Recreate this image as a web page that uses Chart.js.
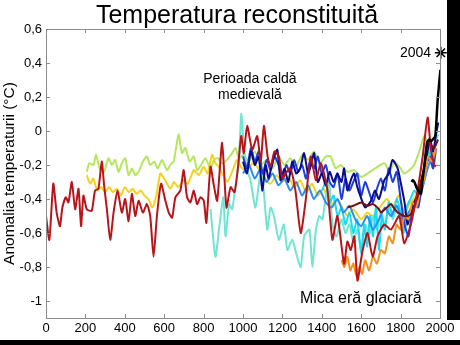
<!DOCTYPE html>
<html>
<head>
<meta charset="utf-8">
<title>Temperatura reconstituită</title>
<script src="https://cdn.jsdelivr.net/npm/chart.js"></script>
<style>
    html, body { margin: 0; padding: 0; background: #fff; }
    #wrap { position: relative; width: 460px; height: 345px; }
    .edge { position: absolute; background: #000; }
</style>
</head>
<body>
<div id="wrap">
    <canvas id="tempChart" width="460" height="345"></canvas>
    <div class="edge" style="left:447px; top:0; width:13px; height:320px;"></div>
    <div class="edge" style="left:0; top:340px; width:460px; height:5px;"></div>
</div>
<script>
// axis ticks
const xTicks = [0, 200, 400, 600, 800, 1000, 1200, 1400, 1600, 1800, 2000];
const yTicks = [-1, -0.8, -0.6, -0.4, -0.2, 0, 0.2, 0.4, 0.6];

// reconstructions (year, anomaly in °C)
const redYears = [0, 17, 37, 54, 71, 83, 100, 114, 131, 148, 165, 178, 190, 207, 232, 249, 266, 283, 295, 309, 326, 343, 363, 385, 402, 419, 436, 453, 470, 492, 512, 529, 546, 563, 584, 606, 623, 640, 657, 682, 699, 716, 733, 750, 767, 784, 801, 814, 835, 852, 869, 894, 916, 937, 957, 974, 991, 1004, 1021, 1047, 1072, 1090, 1106, 1125, 1140, 1160, 1182, 1200, 1216, 1240, 1266, 1293, 1318, 1344, 1370, 1395, 1429, 1454, 1479, 1513, 1530, 1547, 1565, 1581, 1606, 1632, 1658, 1683, 1717, 1751, 1793, 1818, 1852, 1886, 1912, 1937, 1954, 1971, 1979];
const redTemps = [-0.50, -0.64, -0.31, -0.48, -0.56, -0.45, -0.39, -0.42, -0.30, -0.46, -0.34, -0.56, -0.38, -0.46, -0.47, -0.35, -0.34, -0.18, -0.32, -0.46, -0.64, -0.48, -0.35, -0.48, -0.40, -0.53, -0.37, -0.50, -0.41, -0.48, -0.43, -0.50, -0.74, -0.50, -0.31, -0.41, -0.48, -0.51, -0.39, -0.35, -0.23, -0.39, -0.42, -0.35, -0.43, -0.39, -0.41, -0.54, -0.21, -0.32, -0.41, -0.07, -0.45, -0.33, -0.36, -0.22, -0.03, -0.13, 0.03, -0.11, -0.03, -0.18, 0.03, -0.15, -0.21, -0.12, -0.15, -0.28, -0.25, -0.22, -0.35, -0.60, -0.41, -0.15, -0.29, -0.19, -0.35, -0.64, -0.50, -0.78, -0.65, -0.70, -0.62, -0.88, -0.71, -0.60, -0.74, -0.62, -0.55, -0.58, -0.50, -0.66, -0.55, -0.35, -0.15, 0.08, -0.11, -0.20, -0.21];

const greenYears = [207, 220, 241, 254, 275, 295, 317, 334, 351, 368, 385, 402, 419, 436, 453, 470, 492, 512, 529, 550, 567, 589, 614, 631, 648, 673, 690, 707, 729, 750, 767, 787, 809, 835, 852, 872, 894, 919, 945, 962, 979, 1004, 1030, 1060, 1090, 1120, 1150, 1180, 1210, 1240, 1270, 1300, 1330, 1360, 1390, 1420, 1445, 1470, 1496, 1530, 1564, 1600, 1632, 1670, 1717, 1745, 1768, 1800, 1818, 1845, 1868, 1895, 1920, 1940, 1955, 1980];
const greenTemps = [-0.24, -0.19, -0.20, -0.14, -0.23, -0.24, -0.16, -0.20, -0.17, -0.24, -0.19, -0.16, -0.26, -0.22, -0.26, -0.24, -0.18, -0.15, -0.20, -0.18, -0.22, -0.17, -0.23, -0.20, -0.18, -0.02, -0.13, -0.10, -0.18, -0.15, -0.23, -0.20, -0.16, -0.22, -0.17, -0.16, -0.19, -0.17, -0.13, -0.10, -0.16, -0.14, -0.18, -0.12, -0.20, -0.17, -0.22, -0.15, -0.20, -0.16, -0.21, -0.14, -0.17, -0.12, -0.19, -0.15, -0.15, -0.22, -0.20, -0.24, -0.23, -0.27, -0.25, -0.22, -0.19, -0.24, -0.18, -0.22, -0.25, -0.23, -0.20, -0.12, -0.03, -0.08, -0.13, -0.08];

const yellowYears = [207, 224, 240, 260, 280, 300, 320, 340, 360, 380, 400, 420, 440, 460, 480, 500, 520, 540, 560, 580, 600, 631, 650, 670, 699, 720, 750, 775, 801, 820, 843, 860, 877, 900, 920, 945, 970, 995, 1021, 1050, 1072, 1100, 1140, 1170, 1200, 1230, 1260, 1290, 1320, 1350, 1380, 1410, 1445, 1470, 1500, 1530, 1560, 1600, 1630, 1660, 1700, 1730, 1760, 1790, 1820, 1850, 1880, 1910, 1940, 1960, 1980];
const yellowTemps = [-0.26, -0.31, -0.28, -0.35, -0.33, -0.36, -0.33, -0.36, -0.34, -0.38, -0.33, -0.36, -0.34, -0.37, -0.35, -0.38, -0.40, -0.45, -0.38, -0.25, -0.28, -0.34, -0.30, -0.33, -0.29, -0.31, -0.23, -0.26, -0.21, -0.25, -0.14, -0.19, -0.21, -0.26, -0.30, -0.24, -0.17, -0.22, -0.23, -0.19, -0.21, -0.27, -0.31, -0.26, -0.30, -0.27, -0.33, -0.29, -0.36, -0.31, -0.38, -0.34, -0.45, -0.40, -0.44, -0.50, -0.46, -0.52, -0.48, -0.50, -0.44, -0.40, -0.45, -0.38, -0.48, -0.42, -0.38, -0.28, -0.16, -0.20, -0.12];

const turqYears = [835, 860, 880, 900, 911, 930, 945, 962, 979, 991, 1004, 1020, 1038, 1063, 1089, 1105, 1123, 1140, 1157, 1182, 1207, 1225, 1250, 1270, 1293, 1310, 1337, 1352, 1370, 1387, 1403, 1420, 1437, 1454, 1475, 1500, 1520, 1540, 1560, 1580, 1600, 1620, 1640, 1660, 1680, 1700, 1720, 1740, 1760, 1780, 1800, 1820, 1840, 1860, 1880, 1900, 1920, 1940, 1960, 1980, 1992];
const turqTemps = [-0.46, -0.74, -0.56, -0.39, -0.62, -0.43, -0.46, -0.32, -0.18, 0.10, -0.09, -0.22, -0.29, -0.45, -0.25, -0.35, -0.58, -0.45, -0.50, -0.64, -0.55, -0.70, -0.64, -0.72, -0.80, -0.62, -0.58, -0.80, -0.58, -0.50, -0.52, -0.39, -0.30, -0.55, -0.62, -0.52, -0.60, -0.55, -0.65, -0.58, -0.70, -0.55, -0.62, -0.50, -0.58, -0.48, -0.55, -0.45, -0.52, -0.44, -0.55, -0.58, -0.50, -0.45, -0.40, -0.35, -0.25, -0.10, -0.15, -0.05, -0.02];

const cyanYears = [1402, 1420, 1440, 1460, 1480, 1500, 1520, 1540, 1560, 1580, 1600, 1615, 1630, 1645, 1660, 1675, 1690, 1705, 1720, 1740, 1760, 1780, 1800, 1815, 1830, 1850, 1870, 1890, 1910, 1930, 1945, 1960];
const cyanTemps = [-0.35, -0.30, -0.42, -0.38, -0.50, -0.45, -0.55, -0.48, -0.60, -0.52, -0.72, -0.55, -0.68, -0.50, -0.62, -0.45, -0.70, -0.50, -0.58, -0.42, -0.50, -0.40, -0.48, -0.60, -0.45, -0.40, -0.35, -0.38, -0.30, -0.18, -0.12, -0.18];

const lightBlueYears = [1000, 1030, 1060, 1090, 1120, 1150, 1180, 1210, 1240, 1270, 1300, 1330, 1360, 1390, 1420, 1450, 1480, 1510, 1540, 1570, 1600, 1630, 1660, 1690, 1720, 1750, 1780, 1810, 1840, 1870, 1900, 1930, 1950, 1965];
const lightBlueTemps = [-0.25, -0.20, -0.28, -0.22, -0.30, -0.25, -0.32, -0.28, -0.35, -0.30, -0.38, -0.32, -0.40, -0.35, -0.42, -0.45, -0.40, -0.48, -0.44, -0.52, -0.56, -0.50, -0.58, -0.52, -0.45, -0.50, -0.44, -0.52, -0.48, -0.42, -0.38, -0.25, -0.18, -0.22];

const blueYears = [1000, 1020, 1040, 1060, 1080, 1100, 1120, 1140, 1160, 1180, 1200, 1220, 1240, 1260, 1280, 1300, 1320, 1340, 1360, 1380, 1400, 1420, 1440, 1460, 1480, 1500, 1520, 1540, 1560, 1580, 1600, 1620, 1640, 1660, 1680, 1700, 1720, 1740, 1760, 1780, 1800, 1820, 1840, 1855, 1870, 1890, 1910, 1930, 1950, 1965, 1980];
const blueTemps = [-0.15, -0.22, -0.10, -0.18, -0.12, -0.25, -0.17, -0.23, -0.15, -0.20, -0.28, -0.20, -0.25, -0.17, -0.24, -0.20, -0.28, -0.18, -0.22, -0.15, -0.25, -0.20, -0.30, -0.33, -0.25, -0.40, -0.28, -0.35, -0.30, -0.25, -0.38, -0.30, -0.36, -0.42, -0.34, -0.28, -0.35, -0.22, -0.30, -0.24, -0.40, -0.55, -0.62, -0.50, -0.42, -0.45, -0.30, -0.20, -0.15, -0.22, -0.10];

const navyYears = [1000, 1020, 1040, 1060, 1080, 1098, 1115, 1130, 1150, 1174, 1191, 1210, 1230, 1250, 1270, 1290, 1310, 1330, 1345, 1361, 1380, 1400, 1420, 1440, 1460, 1479, 1500, 1513, 1530, 1550, 1564, 1580, 1598, 1620, 1650, 1670, 1690, 1717, 1740, 1759, 1785, 1800, 1820, 1835, 1850, 1868, 1885, 1903, 1920, 1937, 1950, 1965, 1980, 1991];
const navyTemps = [-0.18, -0.25, -0.12, -0.20, -0.15, -0.35, -0.20, -0.28, -0.18, -0.11, -0.29, -0.22, -0.30, -0.18, -0.25, -0.22, -0.13, -0.25, -0.20, -0.13, -0.30, -0.25, -0.32, -0.24, -0.30, -0.25, -0.30, -0.22, -0.35, -0.28, -0.25, -0.33, -0.39, -0.45, -0.41, -0.35, -0.40, -0.29, -0.25, -0.17, -0.22, -0.30, -0.42, -0.55, -0.48, -0.42, -0.38, -0.30, -0.22, -0.12, -0.05, -0.12, -0.02, 0.05];

const orangeYears = [1500, 1515, 1530, 1545, 1560, 1575, 1590, 1605, 1620, 1640, 1660, 1680, 1700, 1720, 1740, 1760, 1780, 1800, 1820, 1840, 1860, 1880, 1900, 1920, 1940, 1960, 1980];
const orangeTemps = [-0.76, -0.80, -0.74, -0.82, -0.78, -0.85, -0.80, -0.84, -0.76, -0.82, -0.74, -0.78, -0.70, -0.72, -0.62, -0.66, -0.55, -0.58, -0.50, -0.52, -0.42, -0.45, -0.35, -0.28, -0.15, -0.18, -0.10];

const brownYears = [1530, 1560, 1600, 1630, 1660, 1690, 1700, 1730, 1751, 1770, 1785, 1800, 1818, 1835, 1852, 1870, 1886, 1900, 1920, 1937, 1950, 1970, 1990];
const brownTemps = [-0.45, -0.44, -0.42, -0.44, -0.43, -0.46, -0.48, -0.45, -0.43, -0.46, -0.48, -0.49, -0.50, -0.50, -0.49, -0.44, -0.39, -0.32, -0.21, -0.07, -0.08, -0.10, -0.05];

// instrumental record
const instrYears = [1856, 1861, 1870, 1880, 1890, 1903, 1910, 1920, 1934, 1945, 1955, 1963, 1976, 1988, 2002];
const instrTemps = [-0.30, -0.29, -0.30, -0.33, -0.35, -0.37, -0.30, -0.21, -0.07, -0.05, -0.06, -0.05, -0.03, 0.18, 0.36];
const markYear = [2004];
const markTemp = [0.46];

const FONT = '"Liberation Sans", Arial, sans-serif';

function pts(xs, ys) {
    return xs.map((x, i) => ({ x: x, y: ys[i] }));
}

// first entry ends up on top
const series = [
    { label: 'instrumental', color: '#000000', xs: instrYears, ys: instrTemps, width: 2.5 },
    { label: 'red', color: '#b8151b', xs: redYears, ys: redTemps, width: 2 },
    { label: 'brown', color: '#7a0d0d', xs: brownYears, ys: brownTemps, width: 2 },
    { label: 'orange', color: '#f39222', xs: orangeYears, ys: orangeTemps, width: 2 },
    { label: 'navy', color: '#0a0a8c', xs: navyYears, ys: navyTemps, width: 2 },
    { label: 'blue', color: '#1f3fdc', xs: blueYears, ys: blueTemps, width: 2 },
    { label: 'lightblue', color: '#2b8df5', xs: lightBlueYears, ys: lightBlueTemps, width: 2 },
    { label: 'cyan', color: '#18dcf2', xs: cyanYears, ys: cyanTemps, width: 2 },
    { label: 'turquoise', color: '#70e6d2', xs: turqYears, ys: turqTemps, width: 2 },
    { label: 'yellow', color: '#f5d21e', xs: yellowYears, ys: yellowTemps, width: 2 },
    { label: 'green', color: '#b6e65e', xs: greenYears, ys: greenTemps, width: 2 }
];

const datasets = series.map(s => ({
    label: s.label,
    data: pts(s.xs, s.ys),
    borderColor: s.color,
    borderWidth: s.width,
    pointRadius: 0,
    tension: 0.2,
    fill: false
}));
datasets.unshift({
    type: 'scatter',
    label: '2004',
    data: pts(markYear, markTemp),
    pointStyle: 'star',
    pointRadius: 6,
    borderColor: '#000',
    borderWidth: 1.5,
    clip: false
});

// gray box with inward ticks on all four sides, title and text notes
const frame = {
    id: 'frame',
    afterDatasetsDraw(chart) {
        const { ctx, chartArea: a, scales } = chart;
        ctx.save();
        ctx.strokeStyle = '#8c8c8c';
        ctx.lineWidth = 1;
        ctx.strokeRect(a.left + 0.5, a.top + 0.5, a.right - a.left, a.bottom - a.top);
        ctx.beginPath();
        xTicks.forEach(v => {
            const px = Math.round(scales.x.getPixelForValue(v)) + 0.5;
            ctx.moveTo(px, a.bottom); ctx.lineTo(px, a.bottom - 4);
            ctx.moveTo(px, a.top); ctx.lineTo(px, a.top + 4);
        });
        yTicks.forEach(v => {
            const py = Math.round(scales.y.getPixelForValue(v)) + 0.5;
            ctx.moveTo(a.left, py); ctx.lineTo(a.left + 4, py);
            ctx.moveTo(a.right, py); ctx.lineTo(a.right - 4, py);
        });
        ctx.stroke();

        ctx.fillStyle = '#000';
        ctx.textAlign = 'center';
        ctx.textBaseline = 'alphabetic';
        ctx.font = '25px ' + FONT;
        ctx.fillText('Temperatura reconstituită', (a.left + a.right) / 2 - 6, 23);

        const x = scales.x, y = scales.y;
        ctx.font = '14px ' + FONT;
        ctx.fillText('Perioada caldă', x.getPixelForValue(1035), y.getPixelForValue(0.284));
        ctx.fillText('medievală', x.getPixelForValue(1035), y.getPixelForValue(0.186));
        ctx.font = '16px ' + FONT;
        ctx.fillText('Mica eră glaciară', x.getPixelForValue(1598), y.getPixelForValue(-1.012));
        ctx.font = '14px ' + FONT;
        ctx.textAlign = 'right';
        ctx.textBaseline = 'middle';
        ctx.fillText('2004', x.getPixelForValue(1955), y.getPixelForValue(0.46));
        ctx.restore();
    }
};

new Chart(document.getElementById('tempChart'), {
    type: 'line',
    data: { datasets: datasets },
    options: {
        responsive: false,
        animation: false,
        layout: { padding: { left: 0, right: 20, top: 29, bottom: 7 } },
        plugins: {
            legend: { display: false },
            tooltip: { enabled: false },
            title: { display: false }
        },
        scales: {
            x: {
                type: 'linear',
                min: 0,
                max: 2000,
                afterBuildTicks: s => { s.ticks = xTicks.map(v => ({ value: v })); },
                afterFit: s => { s.height = 20; },
                grid: { display: false, drawTicks: false },
                border: { display: false },
                ticks: {
                    color: '#000',
                    font: { family: FONT, size: 13 },
                    padding: 3,
                    maxRotation: 0,
                    callback: v => String(v)
                }
            },
            y: {
                min: -1.1,
                max: 0.6,
                afterBuildTicks: s => { s.ticks = yTicks.map(v => ({ value: v })); },
                afterFit: s => { s.width = 46; },
                grid: { display: false, drawTicks: false },
                border: { display: false },
                ticks: {
                    color: '#000',
                    font: { family: FONT, size: 13 },
                    padding: 4,
                    callback: v => String(v).replace('.', ',')
                },
                title: {
                    display: true,
                    text: 'Anomalia temperaturii (°C)',
                    color: '#000',
                    font: { family: FONT, size: 15.5 },
                    padding: { top: 0, bottom: 2 }
                }
            }
        }
    },
    plugins: [frame]
});
</script>
</body>
</html>
